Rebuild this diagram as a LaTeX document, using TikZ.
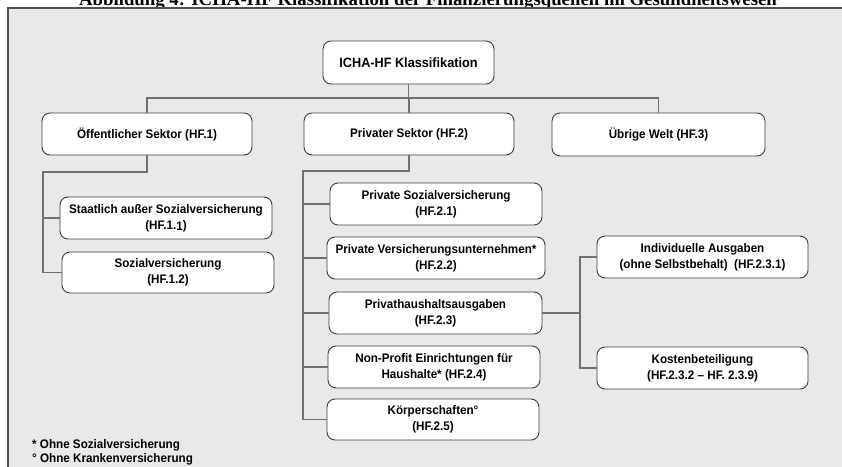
\documentclass[tikz,border=0pt]{standalone}
\usepackage{fontspec}
\setmainfont{Liberation Serif}
\newfontfamily\boxfont[FakeStretch=0.94]{Liberation Sans}
\usetikzlibrary{calc}

\definecolor{panelgray}{HTML}{E9E9E9}
\definecolor{framegray}{HTML}{505050}
\definecolor{boxline}{HTML}{3C3C3C}
\definecolor{linkgray}{HTML}{707070}

\tikzset{
  catbox/.style={draw=boxline, line width=0.9pt, fill=white, rounded corners=8pt,
    align=center, inner sep=0pt,
    font=\boxfont\bfseries\fontsize{12.4}{16}\selectfont},
  link/.style={draw=linkgray, line width=1.2pt},
  note/.style={anchor=west, inner sep=0pt,
    font=\boxfont\bfseries\fontsize{12.4}{14}\selectfont},
}

\begin{document}
\begin{tikzpicture}[x=1pt, y=-1pt]
\useasboundingbox (0,0) rectangle (842,466);

% caption above the panel
\node[anchor=base, inner sep=0pt, font=\bfseries\fontsize{18.8}{22}\selectfont]
  (caption) at (428,5) {Abbildung 4: ICHA-HF Klassifikation der Finanzierungsquellen im Gesundheitswesen};

% grey panel
\fill[panelgray] (8,8) rectangle (860,480);
\draw[framegray, line width=1.2pt] (860,8) -- (8,8) -- (8,480);

% root
\node[catbox, minimum width=171pt, minimum height=43pt,
  font=\boxfont\bfseries\fontsize{13.5}{16}\selectfont] (icha) at (408.5,62.5) {ICHA-HF Klassifikation};

% sectors
\node[catbox, minimum width=210pt, minimum height=42pt] (oeff) at (147,134) {Öffentlicher Sektor (HF.1)};
\node[catbox, minimum width=210pt, minimum height=42pt] (priv) at (409,134) {Privater Sektor (HF.2)};
\node[catbox, minimum width=213pt, minimum height=43pt] (uebr) at (658.5,134.5) {Übrige Welt (HF.3)};

% public sector
\node[catbox, minimum width=212pt, minimum height=42pt] (staat) at (166,218) {Staatlich außer Sozialversicherung\\(HF.1.\raisebox{-1pt}{1})};
\node[catbox, minimum width=212pt, minimum height=41pt] (sozv) at (168,272.5) {Sozialversicherung\\(HF.1.2)};

% private sector
\node[catbox, minimum width=212pt, minimum height=42pt] (ps1) at (436,204) {Private Sozialversicherung\\(HF.2.1)};
\node[catbox, minimum width=218pt, minimum height=42pt] (ps2) at (436,258) {Private Versicherungsunternehmen*\\(HF.2.2)};
\node[catbox, minimum width=213pt, minimum height=42pt] (ps3) at (435.5,313) {Privathaushaltsausgaben\\(HF.2.3)};
\node[catbox, minimum width=212pt, minimum height=42pt] (ps4) at (434,367) {Non-Profit Einrichtungen für\\Haushalte* (HF.2.4)};
\node[catbox, minimum width=212pt, minimum height=41pt] (ps5) at (433,419.5) {Körperschaften°\\(HF.2.5)};

% household spending
\node[catbox, minimum width=211pt, minimum height=42pt] (ind) at (702.5,257) {Individuelle Ausgaben\\(ohne Selbstbehalt)\ \ (HF.2.3.1)};
\node[catbox, minimum width=211pt, minimum height=42pt] (kost) at (702.5,368) {Kostenbeteiligung\\(HF.2.3.2 – HF. 2.3.9)};

% footnotes
\node[note] (fn1) at (32,445) {* Ohne Sozialversicherung};
\node[note] (fn2) at (32,459) {° Ohne Krankenversicherung};

% root to sectors
\coordinate (bus) at (408,98);
\draw[link] (icha.south) -- (icha.south |- bus);
\draw[link] (oeff.north) -- (oeff.north |- bus) -| (uebr.north);
\draw[link] (priv.north) -- (priv.north |- bus);

% public sector branch
\coordinate (t1) at (43,172);
\draw[link] (oeff.south) |- (t1) |- (sozv.west);
\draw[link] (t1 |- staat.west) -- (staat.west);

% private sector branch
\coordinate (t2) at (303,171);
\draw[link] (priv.south) |- (t2) |- (ps5.west);
\draw[link] (t2 |- ps1.west) -- (ps1.west);
\draw[link] (t2 |- ps2.west) -- (ps2.west);
\draw[link] (t2 |- ps3.west) -- (ps3.west);
\draw[link] (t2 |- ps4.west) -- (ps4.west);

% household spending branch
\coordinate (t3) at (580,313);
\draw[link] (ps3.east) -- (t3);
\draw[link] (ind.west) -| (t3) |- (kost.west);
\end{tikzpicture}
\end{document}
